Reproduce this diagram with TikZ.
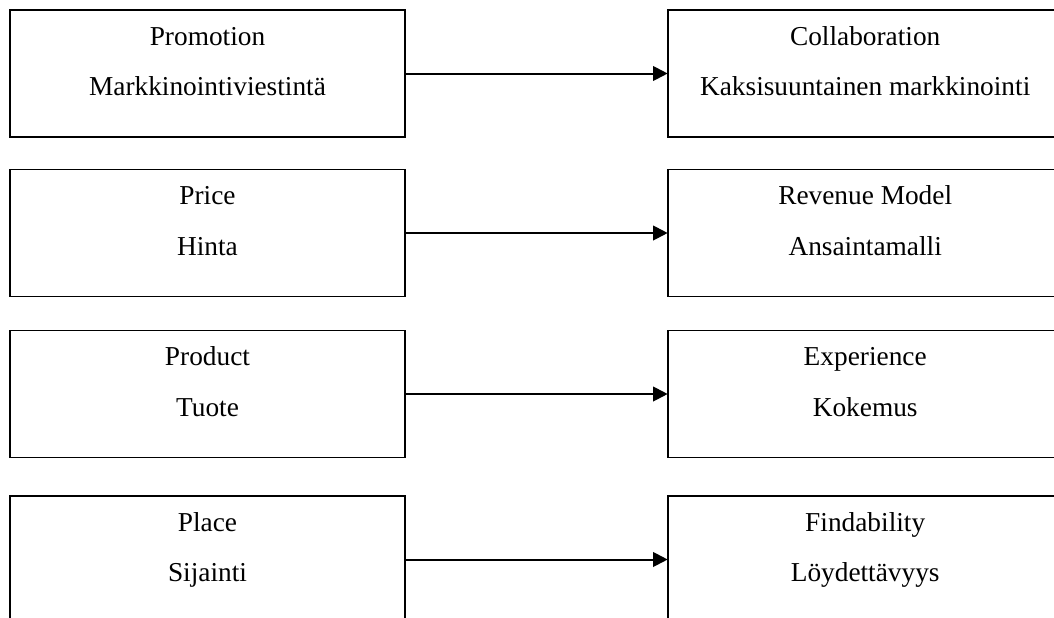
\documentclass[tikz,border=0pt]{standalone}
\usepackage{fontspec}
\setmainfont{Liberation Serif}
\usetikzlibrary{arrows.meta}
\begin{document}
\begin{tikzpicture}[x=0.75pt,y=-0.75pt,
  box/.style={draw=black,line width=1.3pt,fill=white,anchor=north west,
    minimum width=296.25pt,minimum height=95.25pt,inner sep=0pt,outer sep=0pt},
  lbl/.style={anchor=base,inner sep=0pt,font=\fontsize{20.5}{24}\selectfont},
  conn/.style={line width=1.5pt,-{Triangle[length=11pt,width=11pt]}}]
\useasboundingbox (0,0) rectangle (1054,618);
% left boxes
\node[box] (L1) at (10,10) {};
\node[box] (L2) at (10,169.5) {};
\node[box] (L3) at (10,330.5) {};
\node[box] (L4) at (10,496) {};
% right boxes
\node[box] (R1) at (667.7,10) {};
\node[box] (R2) at (667.7,169.5) {};
\node[box] (R3) at (667.7,330.5) {};
\node[box] (R4) at (667.7,496) {};
% labels
\foreach \b/\t/\s in {L1/Promotion/Markkinointiviestintä,
                      L2/Price/Hinta,
                      L3/Product/Tuote,
                      L4/Place/Sijainti,
                      R1/Collaboration/Kaksisuuntainen markkinointi,
                      R2/Revenue Model/Ansaintamalli,
                      R3/Experience/Kokemus,
                      R4/Findability/Löydettävyys}{
  \node[lbl] (\b a) at ([yshift=-26.6pt]\b.north) {\t};
  \node[lbl] (\b b) at ([yshift=-64.2pt]\b.north) {\s};
}
% connectors
\draw[conn] (L1.east) -- (R1.west);
\draw[conn] (L2.east) -- (R2.west);
\draw[conn] (L3.east) -- (R3.west);
\draw[conn] (L4.east) -- (R4.west);
\end{tikzpicture}
\end{document}
